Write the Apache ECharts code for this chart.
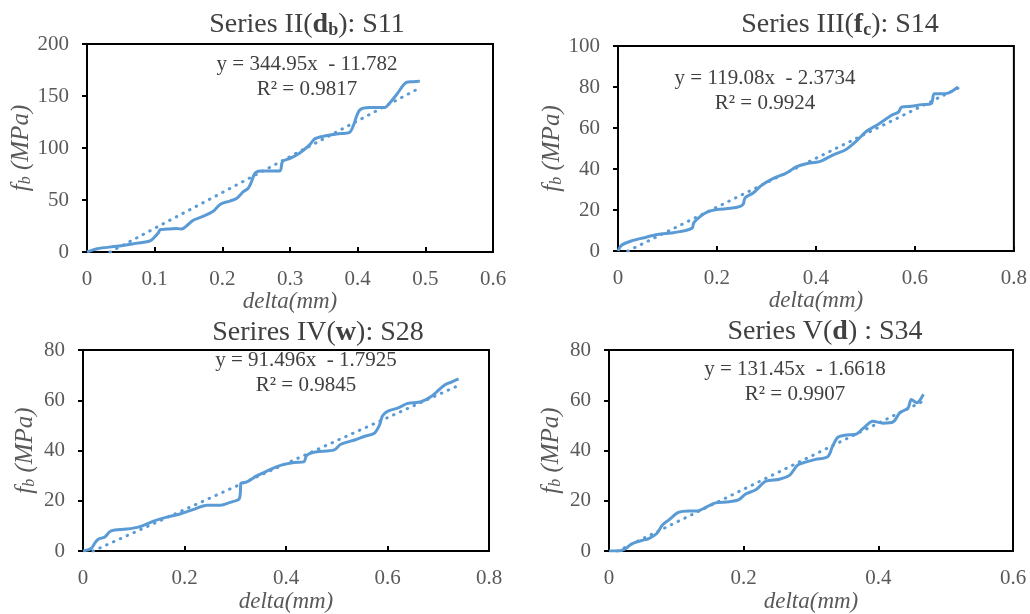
<!DOCTYPE html>
<html>
<head>
<meta charset="utf-8">
<script src="https://cdn.jsdelivr.net/npm/echarts@6/dist/echarts.min.js"></script>
<style>
  html, body { margin: 0; background: #fff; }
  #chart { width: 1030px; height: 614px; }
</style>
</head>
<body>
<div id="chart"></div>
<script>
const deltaS11 = [0, 0.015, 0.044, 0.069, 0.093, 0.1, 0.106, 0.108, 0.118, 0.133, 0.14, 0.147, 0.157, 0.172, 0.187, 0.197, 0.211, 0.221, 0.231, 0.238, 0.243, 0.248, 0.256, 0.265, 0.285, 0.289, 0.3, 0.314, 0.329, 0.337, 0.351, 0.369, 0.388, 0.393, 0.403, 0.418, 0.44, 0.447, 0.459, 0.472, 0.482, 0.492];
const fbS11 = [0, 3.2, 5.5, 8, 10.6, 14.5, 19, 21.5, 22, 22.5, 22, 25, 30.5, 34.4, 39.5, 46, 49, 51.5, 58, 61, 67.5, 75.5, 78, 78, 78, 87, 90, 95, 103, 109, 111.5, 113.5, 115, 120.5, 136.5, 139, 139, 143, 152.7, 163, 163.7, 164.3];

const deltaS14 = [0, 0.007, 0.027, 0.053, 0.08, 0.107, 0.133, 0.15, 0.153, 0.167, 0.18, 0.2, 0.227, 0.247, 0.253, 0.257, 0.273, 0.29, 0.313, 0.34, 0.36, 0.38, 0.407, 0.433, 0.46, 0.48, 0.5, 0.527, 0.553, 0.567, 0.573, 0.593, 0.613, 0.633, 0.639, 0.653, 0.667, 0.687];
const fbS14 = [0, 2.8, 4.9, 6.5, 8, 8.8, 9.8, 11.2, 13.7, 17, 19, 20.2, 20.8, 21.8, 22.8, 26, 28.3, 32, 35.3, 38, 41, 42.6, 43.6, 46.7, 49.4, 53.2, 58, 62, 66.2, 67.8, 70.2, 70.6, 71.4, 71.9, 76.7, 76.7, 77, 80];

const deltaS28 = [0, 0.016, 0.023, 0.03, 0.043, 0.053, 0.063, 0.086, 0.112, 0.139, 0.165, 0.191, 0.218, 0.244, 0.271, 0.29, 0.307, 0.31, 0.311, 0.323, 0.343, 0.363, 0.389, 0.416, 0.435, 0.441, 0.458, 0.495, 0.508, 0.538, 0.554, 0.574, 0.584, 0.59, 0.6, 0.62, 0.64, 0.666, 0.686, 0.712, 0.726, 0.74];
const fbS28 = [0, 1, 3.1, 4.75, 5.6, 7.75, 8.4, 8.75, 9.75, 11.9, 13.5, 14.75, 16.6, 18.25, 18.25, 19.4, 20.6, 23.1, 26.9, 27.5, 30, 31.9, 34.1, 35.25, 35.5, 38.1, 39.4, 40.25, 42.5, 44.4, 45.6, 46.9, 50, 53.75, 55.6, 56.9, 58.75, 59.4, 61.5, 66, 67.25, 68.5];

const deltaS34 = [0, 0.014, 0.024, 0.034, 0.049, 0.059, 0.071, 0.079, 0.089, 0.103, 0.118, 0.131, 0.143, 0.158, 0.178, 0.193, 0.203, 0.218, 0.233, 0.253, 0.268, 0.28, 0.293, 0.307, 0.325, 0.332, 0.34, 0.352, 0.367, 0.377, 0.392, 0.407, 0.422, 0.432, 0.444, 0.449, 0.457, 0.467];
const fbS34 = [0, 0, 0.9, 2.9, 4.2, 5, 7, 10.3, 12.4, 15.4, 16, 16, 17.3, 19.2, 19.6, 20.5, 22.7, 24.4, 27.8, 28.6, 30.1, 34.2, 35.5, 36.5, 37.6, 41.7, 45.3, 46.2, 46.5, 48.7, 51.7, 50.9, 51.4, 55.1, 56.8, 60.3, 59, 62.4];

// linear trendline ends, as drawn in the figure
const trendDelta = [[0.034, 0.492], [0.02, 0.687], [0.0196, 0.74], [0.0126, 0.467]];
const trendFb = [[0, 157.9], [0, 79.4], [0, 65.9], [0, 59.7]];

const equations = ['y = 344.95x  - 11.782', 'y = 119.08x  - 2.3734', 'y = 91.496x  - 1.7925', 'y = 131.45x  - 1.6618'];
const rSquared = ['R\u00b2 = 0.9817', 'R\u00b2 = 0.9924', 'R\u00b2 = 0.9845', 'R\u00b2 = 0.9907'];
const titles = ['Series II({d|d}{s|b}): S11', 'Series III({d|f}{s|c}): S14', 'Serires IV({d|w}): S28', 'Series V({d|d}) : S34'];

const xMax = [0.6, 0.8, 0.8, 0.6];
const xStep = [0.1, 0.2, 0.2, 0.2];
const yMax = [200, 100, 80, 80];
const yStep = [50, 20, 20, 20];

const curves = [[deltaS11, fbS11], [deltaS14, fbS14], [deltaS28, fbS28], [deltaS34, fbS34]];

const serif = "'Liberation Serif', 'Times New Roman', serif";
const blue = '#5b9bd5';

// plot boxes [left, top, width, height]
const boxes = [[87, 44, 406, 208], [618, 46, 400, 205], [83, 350, 406, 213], [609, 350, 404, 208]];
const titlePos = [[307, 25], [840, 25], [318, 333], [825, 332]];
const eqPos = [[307, 77], [765, 91], [306, 373], [795, 382]];

const chart = echarts.init(document.getElementById('chart'));

const pairs = (xs, ys) => xs.map((x, i) => [x, ys[i]]);

const grid = boxes.map(b => ({
  left: b[0], top: b[1], width: b[2], height: b[3],
  show: true, borderColor: '#000', borderWidth: 2, containLabel: false
}));

const xAxis = boxes.map((b, i) => ({
  type: 'value', gridIndex: i, min: 0, max: xMax[i], interval: xStep[i],
  name: 'delta(mm)', nameLocation: 'middle', nameGap: 32,
  nameTextStyle: { fontFamily: serif, fontStyle: 'italic', fontSize: 23, color: '#595959' },
  axisLine: { lineStyle: { color: '#000', width: 2 } },
  axisTick: { inside: true, length: 5, lineStyle: { color: '#000', width: 2 } },
  axisLabel: { fontFamily: serif, fontSize: 21, color: '#595959', margin: 17 },
  splitLine: { show: false }
}));

const yAxis = boxes.map((b, i) => ({
  type: 'value', gridIndex: i, min: 0, max: yMax[i], interval: yStep[i],
  name: '{i|f}{s|b}{i| (MPa)}', nameLocation: 'middle', nameRotate: 90,
  nameGap: i === 0 ? 52 : 45,
  nameTextStyle: {
    color: '#595959',
    rich: {
      i: { fontFamily: serif, fontStyle: 'italic', fontSize: 25, color: '#595959' },
      s: { fontFamily: serif, fontStyle: 'italic', fontSize: 16, color: '#595959', verticalAlign: 'bottom', lineHeight: 14 }
    }
  },
  axisLine: { lineStyle: { color: '#000', width: 2 } },
  axisTick: { length: 5, lineStyle: { color: '#000', width: 2 } },
  axisLabel: { fontFamily: serif, fontSize: 21, color: '#595959', margin: 18 },
  splitLine: { show: false }
}));

const series = [];
curves.forEach((c, i) => {
  series.push({
    type: 'line', xAxisIndex: i, yAxisIndex: i, data: pairs(c[0], c[1]),
    showSymbol: false, smooth: 0.3, lineStyle: { color: blue, width: 3 }
  });
  series.push({
    type: 'line', xAxisIndex: i, yAxisIndex: i, data: pairs(trendDelta[i], trendFb[i]),
    showSymbol: false, lineStyle: { color: blue, width: 3, type: [0.5, 7], cap: 'round' }
  });
});

const graphic = [];
titles.forEach((t, i) => {
  graphic.push({
    type: 'text', x: titlePos[i][0], y: titlePos[i][1],
    style: {
      text: t, align: 'center', verticalAlign: 'middle',
      font: '28px ' + serif, fill: '#404040',
      rich: {
        d: { fontFamily: serif, fontSize: 28, fontWeight: 'bold', fill: '#404040' },
        s: { fontFamily: serif, fontSize: 18, fontWeight: 'bold', fill: '#404040', verticalAlign: 'bottom', lineHeight: 18 }
      }
    }
  });
  graphic.push({
    type: 'text', x: eqPos[i][0], y: eqPos[i][1],
    style: {
      text: equations[i] + '\n' + rSquared[i], align: 'center', verticalAlign: 'middle',
      font: '21px ' + serif, fill: '#404040', lineHeight: 25
    }
  });
});

chart.setOption({
  animation: false,
  backgroundColor: '#fff',
  grid, xAxis, yAxis, series, graphic
});
</script>
</body>
</html>
